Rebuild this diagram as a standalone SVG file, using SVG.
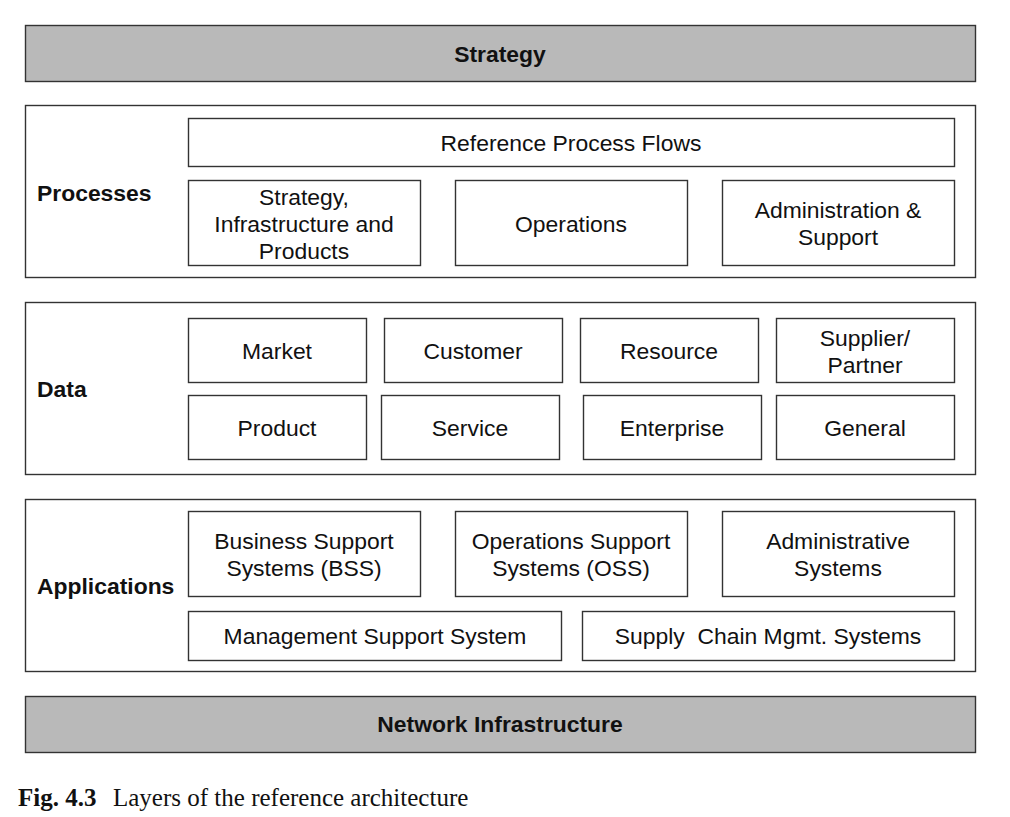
<svg xmlns="http://www.w3.org/2000/svg" width="1010" height="817" viewBox="0 0 1010 817">
<style>
.bar{fill:#b9b9b9;stroke:#333;stroke-width:1.4}
.layer{fill:#fff;stroke:#333;stroke-width:1.4}
.box{fill:#fff;stroke:#333;stroke-width:1.4}
.t{font-family:"Liberation Sans",Arial,sans-serif;font-size:22.9px;fill:#111;text-anchor:middle}
.b{font-family:"Liberation Sans",Arial,sans-serif;font-size:22.9px;font-weight:bold;fill:#111}
.c{font-family:"Liberation Serif","Times New Roman",serif;font-size:25px;fill:#111}
</style>
<rect width="1010" height="817" fill="#fff"/>
<g id="strategy">
<rect class="bar" x="25.5" y="25.5" width="950" height="56"/>
<text class="b" x="500" y="62" text-anchor="middle">Strategy</text>
</g>
<g id="processes">
<rect class="layer" x="25.5" y="105.5" width="950" height="172"/>
<text class="b" x="37" y="201">Processes</text>
</g>
<g id="ref-process-flows">
<rect class="box" x="188.5" y="118.5" width="766" height="48"/>
<text class="t" x="571" y="151">Reference Process Flows</text>
</g>
<g id="sip">
<rect class="box" x="188.5" y="180.5" width="232" height="85"/>
<text class="t" x="304" y="205">Strategy,</text>
<text class="t" x="304" y="232">Infrastructure and</text>
<text class="t" x="304" y="259">Products</text>
</g>
<g id="operations">
<rect class="box" x="455.5" y="180.5" width="232" height="85"/>
<text class="t" x="571" y="232">Operations</text>
</g>
<g id="admin-support">
<rect class="box" x="722.5" y="180.5" width="232" height="85"/>
<text class="t" x="838" y="218">Administration &amp;</text>
<text class="t" x="838" y="245">Support</text>
</g>
<g id="data">
<rect class="layer" x="25.5" y="302.5" width="950" height="172"/>
<text class="b" x="37" y="397">Data</text>
</g>
<g id="market">
<rect class="box" x="188.5" y="318.5" width="178" height="64"/>
<text class="t" x="277" y="359">Market</text>
</g>
<g id="customer">
<rect class="box" x="384.5" y="318.5" width="178" height="64"/>
<text class="t" x="473" y="359">Customer</text>
</g>
<g id="resource">
<rect class="box" x="580.5" y="318.5" width="178" height="64"/>
<text class="t" x="669" y="359">Resource</text>
</g>
<g id="supplier">
<rect class="box" x="776.5" y="318.5" width="178" height="64"/>
<text class="t" x="865" y="346">Supplier/</text>
<text class="t" x="865" y="373">Partner</text>
</g>
<g id="product">
<rect class="box" x="188.5" y="395.5" width="178" height="64"/>
<text class="t" x="277" y="436">Product</text>
</g>
<g id="service">
<rect class="box" x="381.5" y="395.5" width="178" height="64"/>
<text class="t" x="470" y="436">Service</text>
</g>
<g id="enterprise">
<rect class="box" x="583.5" y="395.5" width="178" height="64"/>
<text class="t" x="672" y="436">Enterprise</text>
</g>
<g id="general">
<rect class="box" x="776.5" y="395.5" width="178" height="64"/>
<text class="t" x="865" y="436">General</text>
</g>
<g id="applications">
<rect class="layer" x="25.5" y="499.5" width="950" height="172"/>
<text class="b" x="37" y="594">Applications</text>
</g>
<g id="bss">
<rect class="box" x="188.5" y="511.5" width="232" height="85"/>
<text class="t" x="304" y="549">Business Support</text>
<text class="t" x="304" y="576">Systems (BSS)</text>
</g>
<g id="oss">
<rect class="box" x="455.5" y="511.5" width="232" height="85"/>
<text class="t" x="571" y="549">Operations Support</text>
<text class="t" x="571" y="576">Systems (OSS)</text>
</g>
<g id="admin-systems">
<rect class="box" x="722.5" y="511.5" width="232" height="85"/>
<text class="t" x="838" y="549">Administrative</text>
<text class="t" x="838" y="576">Systems</text>
</g>
<g id="mss">
<rect class="box" x="188.5" y="611.5" width="373" height="49"/>
<text class="t" x="375" y="644">Management Support System</text>
</g>
<g id="scm">
<rect class="box" x="582.5" y="611.5" width="372" height="49"/>
<text class="t" x="768" y="644" xml:space="preserve">Supply  Chain Mgmt. Systems</text>
</g>
<g id="network">
<rect class="bar" x="25.5" y="696.5" width="950" height="56"/>
<text class="b" x="500" y="732" text-anchor="middle">Network Infrastructure</text>
</g>
<g id="connectors"/>
<g id="caption">
<text class="c" x="18" y="806"><tspan font-weight="bold">Fig. 4.3</tspan><tspan x="113">Layers of the reference architecture</tspan></text>
</g>
</svg>
